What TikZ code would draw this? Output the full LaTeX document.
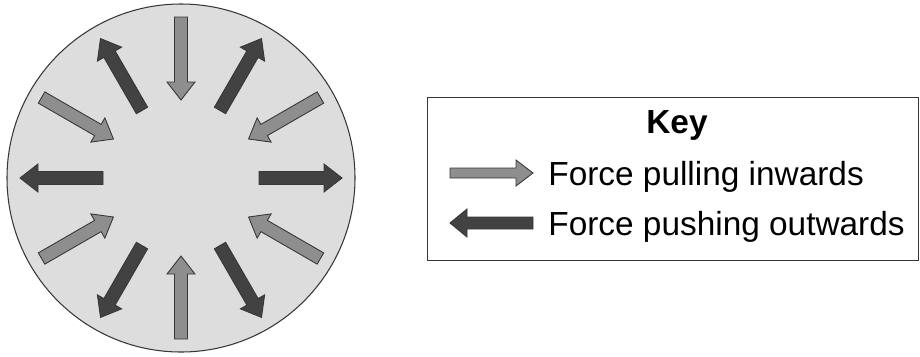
\documentclass[tikz,border=0pt]{standalone}
\usepackage{fontspec}
\setmainfont{Liberation Sans}
\definecolor{discfill}{RGB}{221,221,221}
\definecolor{pullgray}{RGB}{142,142,142}
\definecolor{pushgray}{RGB}{66,66,66}
\definecolor{edgegray}{RGB}{55,55,55}
\tikzset{
  pullarrow/.style={draw=edgegray, line width=0.5pt, fill=pullgray},
  pusharrow/.style={draw=edgegray, line width=0.5pt, fill=pushgray},
  keytext/.style={anchor=base west, inner sep=0pt, font=\fontsize{19}{23}\selectfont}
}
\begin{document}
\begin{tikzpicture}
    \useasboundingbox (0,0) rectangle (18.4,7.12);
    % the disc
    \coordinate (centre) at (3.62,3.56);
    \draw[edgegray, line width=0.6pt, fill=discfill] (centre) circle (3.48);

    % pushing outwards
    \foreach \a in {0,60,120,180,240,300}{
        \begin{scope}[shift={(centre)}, rotate=\a]
            \draw[pusharrow] (1.56,-0.13) -- (2.86,-0.13) -- (2.86,-0.28) -- (3.22,0)
                -- (2.86,0.28) -- (2.86,0.13) -- (1.56,0.13) -- cycle;
        \end{scope}
    }
    % pulling inwards
    \foreach \a in {30,90,150,210,270,330}{
        \begin{scope}[shift={(centre)}, rotate=\a]
            \draw[pullarrow] (3.22,-0.13) -- (1.92,-0.13) -- (1.92,-0.28) -- (1.56,0)
                -- (1.92,0.28) -- (1.92,0.13) -- (3.22,0.13) -- cycle;
        \end{scope}
    }

    % key
    \node[draw=edgegray, line width=0.6pt, minimum width=9.82cm, minimum height=3.26cm, anchor=south west] (keybox) at (8.54,1.9) {};
    \node[keytext, anchor=base, font=\fontsize{19}{23}\selectfont\bfseries] (keytitle) at (13.54,4.46) {Key};
    \node[keytext] (pulltext) at (10.96,3.42) {Force pulling inwards};
    \node[keytext] (pushtext) at (10.96,2.42) {Force pushing outwards};
    \draw[pullarrow] (9.0,3.56) -- (10.32,3.56) -- (10.32,3.40) -- (10.66,3.66) -- (10.32,3.92)
        -- (10.32,3.76) -- (9.0,3.76) -- cycle;
    \draw[pusharrow] (10.66,2.54) -- (9.34,2.54) -- (9.34,2.38) -- (9.0,2.66) -- (9.34,2.94)
        -- (9.34,2.78) -- (10.66,2.78) -- cycle;
\end{tikzpicture}
\end{document}
